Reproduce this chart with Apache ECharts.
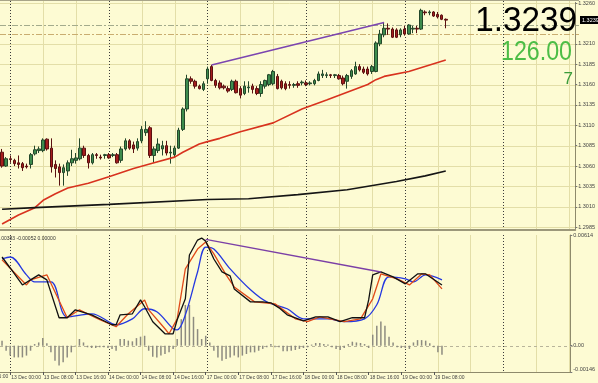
<!DOCTYPE html>
<html><head><meta charset="utf-8">
<script src="https://cdn.jsdelivr.net/npm/echarts@6/dist/echarts.min.js"></script>
<style>html,body{margin:0;padding:0;background:#fdfbd3;overflow:hidden}#c{width:598px;height:383px}</style>
</head><body><div id="c"></div>
<script>
// ---- data ----
const opens  = [1.3077,1.3060,1.3069,1.3067,1.3064,1.3063,1.3060,1.3062,1.3075,1.3079,1.3079,1.3093,1.3082,1.3062,1.3059,1.3052,1.3054,1.3064,1.3067,1.3069,1.3082,1.3073,1.3064,1.3074,1.3071,1.3073,1.3074,1.3073,1.3074,1.3067,1.3081,1.3091,1.3086,1.3082,1.3091,1.3101,1.3107,1.3073,1.3079,1.3081,1.3085,1.3076,1.3074,1.3082,1.3105,1.3130,1.3167,1.3164,1.3158,1.3154,1.3167,1.3182,1.3165,1.3162,1.3158,1.3155,1.3154,1.3164,1.3155,1.3149,1.3156,1.3158,1.3155,1.3149,1.3158,1.3160,1.3161,1.3170,1.3164,1.3161,1.3160,1.3159,1.3161,1.3162,1.3162,1.3161,1.3161,1.3165,1.3171,1.3171,1.3172,1.3171,1.3171,1.3168,1.3164,1.3170,1.3173,1.3182,1.3179,1.3179,1.3176,1.3176,1.3210,1.3221,1.3229,1.3228,1.3227,1.3221,1.3228,1.3222,1.3228,1.3229,1.3228,1.3249,1.3248,1.3249,1.3246,1.3245,1.3240];
const closes = [1.3060,1.3069,1.3068,1.3063,1.3062,1.3058,1.3059,1.3074,1.3080,1.3081,1.3092,1.3081,1.3059,1.3057,1.3052,1.3058,1.3064,1.3069,1.3070,1.3082,1.3073,1.3064,1.3074,1.3073,1.3070,1.3074,1.3070,1.3074,1.3064,1.3081,1.3091,1.3082,1.3081,1.3090,1.3105,1.3105,1.3073,1.3081,1.3087,1.3085,1.3076,1.3077,1.3082,1.3104,1.3130,1.3167,1.3164,1.3158,1.3155,1.3161,1.3179,1.3165,1.3159,1.3156,1.3156,1.3152,1.3164,1.3150,1.3147,1.3158,1.3157,1.3154,1.3149,1.3160,1.3165,1.3172,1.3176,1.3155,1.3156,1.3155,1.3159,1.3160,1.3159,1.3163,1.3160,1.3162,1.3165,1.3173,1.3173,1.3172,1.3171,1.3172,1.3167,1.3161,1.3171,1.3177,1.3182,1.3178,1.3175,1.3173,1.3182,1.3211,1.3222,1.3229,1.3228,1.3218,1.3218,1.3227,1.3222,1.3233,1.3229,1.3228,1.3251,1.3248,1.3249,1.3244,1.3243,1.3240,1.3239];
const highs  = [1.3081,1.3071,1.3073,1.3069,1.3073,1.3065,1.3063,1.3076,1.3085,1.3084,1.3094,1.3094,1.3094,1.3067,1.3063,1.3062,1.3067,1.3080,1.3076,1.3094,1.3085,1.3075,1.3076,1.3076,1.3074,1.3075,1.3076,1.3076,1.3076,1.3084,1.3094,1.3093,1.3090,1.3094,1.3109,1.3115,1.3109,1.3084,1.3094,1.3091,1.3091,1.3085,1.3085,1.3107,1.3132,1.3172,1.3170,1.3166,1.3160,1.3164,1.3182,1.3184,1.3167,1.3165,1.3160,1.3158,1.3166,1.3166,1.3158,1.3164,1.3164,1.3161,1.3158,1.3164,1.3166,1.3173,1.3178,1.3173,1.3166,1.3164,1.3164,1.3162,1.3164,1.3165,1.3165,1.3164,1.3167,1.3176,1.3178,1.3175,1.3173,1.3173,1.3173,1.3171,1.3173,1.3179,1.3188,1.3185,1.3182,1.3182,1.3184,1.3213,1.3227,1.3236,1.3235,1.3230,1.3229,1.3229,1.3232,1.3234,1.3232,1.3232,1.3253,1.3251,1.3251,1.3250,1.3249,1.3246,1.3241];
const lows   = [1.3058,1.3059,1.3064,1.3060,1.3057,1.3054,1.3057,1.3057,1.3073,1.3076,1.3077,1.3079,1.3052,1.3046,1.3036,1.3036,1.3048,1.3060,1.3063,1.3067,1.3070,1.3057,1.3062,1.3069,1.3068,1.3069,1.3069,1.3071,1.3063,1.3064,1.3079,1.3080,1.3076,1.3079,1.3088,1.3097,1.3070,1.3064,1.3076,1.3073,1.3073,1.3063,1.3070,1.3081,1.3103,1.3127,1.3161,1.3155,1.3154,1.3152,1.3161,1.3164,1.3156,1.3154,1.3154,1.3150,1.3152,1.3149,1.3143,1.3147,1.3150,1.3149,1.3147,1.3145,1.3155,1.3158,1.3159,1.3154,1.3154,1.3153,1.3155,1.3156,1.3156,1.3159,1.3158,1.3159,1.3159,1.3164,1.3168,1.3168,1.3168,1.3168,1.3166,1.3159,1.3155,1.3167,1.3172,1.3176,1.3173,1.3171,1.3173,1.3175,1.3207,1.3218,1.3221,1.3217,1.3217,1.3218,1.3220,1.3221,1.3223,1.3223,1.3227,1.3245,1.3245,1.3243,1.3241,1.3239,1.3229];

const maRed   = [[0,1.2989],[4,1.3000],[8,1.3009],[10,1.3018],[13,1.3026],[16,1.3033],[21,1.3039],[26,1.3047],[32,1.3057],[37,1.3064],[42,1.3071],[44,1.3077],[48,1.3087],[50,1.3090],[53,1.3094],[58,1.3102],[66,1.3113],[73,1.3130],[79,1.3141],[89,1.3160],[91,1.3166],[93,1.3170],[99,1.3176],[108,1.3190]];
const maBlack = [[0,1.3007],[8,1.3009],[26,1.3013],[50,1.3019],[60,1.3020],[72,1.3025],[84,1.3031],[96,1.3041],[103,1.3048],[108,1.3054]];

const oscBlack = [[0,0.00492],[2,0.00431],[5,0.00337],[7,0.00365],[9,0.00393],[11,0.00365],[14,0.00155],[16,0.00155],[18,0.00199],[22,0.00171],[27,0.00116],[28,0.00116],[29,0.00171],[32,0.00177],[34,0.00254],[35,0.00216],[37,0.00133],[40,0.00066],[42,0.00066],[43,0.00144],[45,0.0026],[46,0.00503],[48,0.00586],[49,0.00597],[50,0.0058],[52,0.00481],[54,0.00409],[56,0.00387],[57,0.00315],[61,0.00243],[64,0.00243],[66,0.00238],[68,0.0021],[70,0.00171],[74,0.00138],[77,0.0016],[80,0.0016],[83,0.00133],[86,0.00155],[89,0.00155],[90,0.00254],[91,0.00393],[93,0.00409],[96,0.00382],[99,0.00343],[102,0.00398],[104,0.00398],[108,0.00337]];
const oscRed = [[0,0.00476],[6,0.00337],[7,0.00365],[11,0.00393],[16,0.00155],[19,0.00199],[24,0.00144],[28,0.00105],[31,0.00177],[35,0.00254],[36,0.00199],[40,0.00094],[41,0.00066],[43,0.00149],[45,0.00426],[48,0.00536],[50,0.00575],[52,0.00509],[55,0.00393],[57,0.00326],[62,0.00243],[67,0.00232],[72,0.00149],[75,0.00133],[78,0.0016],[84,0.00133],[88,0.00149],[91,0.0026],[93,0.00398],[97,0.00371],[100,0.00337],[103,0.00398],[105,0.00393],[108,0.00315]];
const oscBlue = [[0,0.00481],[2,0.00492],[6,0.00393],[8,0.00354],[12,0.00354],[16,0.0016],[22,0.00177],[27,0.00122],[28,0.00116],[32,0.00149],[35,0.00205],[38,0.00188],[42,0.00094],[43,0.00088],[45,0.00171],[48,0.00409],[50,0.00547],[52,0.00536],[56,0.00426],[61,0.0031],[65,0.00243],[70,0.00205],[74,0.00149],[80,0.00149],[84,0.00133],[89,0.00149],[92,0.00227],[95,0.00382],[99,0.00371],[101,0.00354],[104,0.00393],[108,0.00365]];
const hist = [0.00028,-0.00028,-0.00055,-0.00065,-0.00065,-0.00065,-0.00055,-0.00028,0.00009,0.00018,0.00042,0.00013,-0.00037,-0.00083,-0.0011,-0.00092,-0.00065,-0.00037,-0.00005,0.00037,0.00018,-0.00009,-0.00013,-0.00013,-0.00009,-0.00009,-0.00013,-0.00018,-0.00028,0.00037,0.00037,0.00028,0.00024,0.00042,0.0005,0.00055,-0.00028,-0.00061,-0.00065,-0.00055,-0.00046,-0.00037,-0.00018,0.00037,0.00147,0.00226,0.00226,0.0016,0.00092,0.00037,0.00055,0.00018,-0.00028,-0.00065,-0.00083,-0.00074,-0.00065,-0.00055,-0.00065,-0.00055,-0.00046,-0.00037,-0.00037,-0.00028,-0.00018,-0.00009,0.00009,-0.00009,-0.00009,-0.00031,-0.00031,-0.00028,-0.00024,-0.00018,-0.00013,-0.00009,0.00006,0.00015,0.00015,0.00009,0.00006,-0.00009,-0.00018,-0.00024,-0.00013,0.00009,0.00022,0.00018,0.00015,0.00009,-0.00013,0.00061,0.0011,0.00134,0.0011,0.0005,0.00018,-0.00009,-0.00013,-0.00013,-0.00018,0.00018,0.00031,0.00031,0.00028,0.00013,-0.00009,-0.00037,-0.0005];

const trendPrice = [[51,1.3184],[72,1.3210],[93,1.3236]];
const trendOsc = [[50,0.00590],[93,0.00409]];
const levelLines = [1.3233, 1.3222];

const priceTicks = [1.2985,1.3010,1.3035,1.3060,1.3085,1.3110,1.3135,1.3160,1.3185,1.3210,1.3260];
const oscTicks = [-0.00146, 0, 0.00614];
const priceRange = [1.29816, 1.32607];
const oscRange = [-0.00146, 0.00614];

const timeLabelIdx = [2,10,18,26,34,42,50,58,66,74,82,90,98,106];
const timeLabels = ['13 Dec 00:00','13 Dec 08:00','13 Dec 16:00','14 Dec 00:00','14 Dec 08:00','14 Dec 16:00','17 Dec 00:00','17 Dec 08:00','17 Dec 16:00','18 Dec 00:00','18 Dec 08:00','18 Dec 16:00','19 Dec 00:00','19 Dec 08:00'];
const prevLabel = '12 Dec 16:00';
const gridIdx = [2,10,18,26,34,42,50,58,66,74,82,90,98,106,114,122,130,138];
const daySepIdx = [2,26,50,74,98,122];

const lastPrice = 1.3239;
const bigPrice = '1.3239', bigSpread = '126.00', bigCount = '7';
const oscHeader = '0.00383 -0.00052 0.00000';

const NCAT = 140;
const cats = Array.from({length: NCAT}, (_, i) => String(i));

// ---- chart ----
const FONT = '"Liberation Sans", Arial, sans-serif';
const BG = '#fdfbd3';
const chart = echarts.init(document.getElementById('c'), null, {renderer: 'canvas'});
const candleData = opens.map((o, i) => [o, closes[i], lows[i], highs[i]]);

const option = {
  animation: false,
  backgroundColor: BG,
  grid: [
    {left: 0, right: 19, top: 0, height: 230},
    {left: 0, right: 19, top: 235, height: 137}
  ],
  xAxis: [
    {type: 'category', gridIndex: 0, data: cats, boundaryGap: true,
     axisLine: {show: true, onZero: false, lineStyle: {color: '#9c987a', width: 2}},
     axisTick: {show: false}, axisLabel: {show: false}, splitLine: {show: false}},
    {type: 'category', gridIndex: 1, data: cats, boundaryGap: true,
     axisLine: {show: true, onZero: false, lineStyle: {color: '#8e8a6c', width: 1}},
     axisTick: {show: true, alignWithLabel: true, interval: (i) => timeLabelIdx.includes(i), length: 3, lineStyle: {color: '#555'}},
     axisLabel: {show: true, interval: (i) => timeLabelIdx.includes(i),
       formatter: (v) => { const k = timeLabelIdx.indexOf(Number(v)); return k >= 0 ? timeLabels[k] : ''; },
       align: 'left', fontSize: 5, fontFamily: FONT, color: '#444', margin: 3, padding: [0, 0, 0, 1]},
     splitLine: {show: false}}
  ],
  yAxis: [
    {type: 'value', gridIndex: 0, position: 'right', min: priceRange[0], max: priceRange[1],
     axisLine: {show: true, lineStyle: {color: '#8e8a6c'}},
     axisTick: {show: true, customValues: priceTicks, length: 2, lineStyle: {color: '#777'}},
     axisLabel: {customValues: priceTicks, formatter: (v) => v.toFixed(4), fontSize: 5.5, fontFamily: FONT, color: '#444', margin: 3, hideOverlap: false},
     splitLine: {show: false}},
    {type: 'value', gridIndex: 1, position: 'right', min: oscRange[0], max: oscRange[1],
     axisLine: {show: true, lineStyle: {color: '#8e8a6c'}},
     axisTick: {show: true, customValues: oscTicks, length: 2, lineStyle: {color: '#777'}},
     axisLabel: {customValues: oscTicks, formatter: (v) => v === 0 ? '0.00' : v.toFixed(5), fontSize: 5.5, fontFamily: FONT, color: '#444', margin: 3,
       verticalAlignMinLabel: 'bottom'},
     splitLine: {show: false}}
  ],
  series: [
    {type: 'candlestick', xAxisIndex: 0, yAxisIndex: 0, data: candleData, barWidth: 3, z: 8,
     itemStyle: {color: '#3d8c4d', color0: '#a51d1d', borderColor: '#23472a', borderColor0: '#5a1010', borderWidth: 1}},
    {type: 'line', xAxisIndex: 0, yAxisIndex: 0, data: maRed, showSymbol: false, z: 9,
     lineStyle: {color: '#d8321e', width: 1.6}},
    {type: 'line', xAxisIndex: 0, yAxisIndex: 0, data: maBlack, showSymbol: false, z: 9,
     lineStyle: {color: '#151515', width: 1.6}},
    {type: 'line', xAxisIndex: 0, yAxisIndex: 0, data: trendPrice, symbol: 'rect', symbolSize: 4, showSymbol: true, z: 10,
     itemStyle: {color: BG, borderColor: '#7b45b0', borderWidth: 1}, lineStyle: {color: '#7b45b0', width: 1.6}},
    {type: 'bar', xAxisIndex: 1, yAxisIndex: 1, data: hist, barWidth: 1.5, z: 6,
     itemStyle: {color: '#8d8b80'}},
    {type: 'line', xAxisIndex: 1, yAxisIndex: 1, data: oscBlue, showSymbol: false, smooth: 0.35, z: 9,
     lineStyle: {color: '#2438e0', width: 1.3}},
    {type: 'line', xAxisIndex: 1, yAxisIndex: 1, data: oscRed, showSymbol: false, z: 9,
     lineStyle: {color: '#e04a18', width: 1.3}},
    {type: 'line', xAxisIndex: 1, yAxisIndex: 1, data: oscBlack, showSymbol: false, z: 9,
     lineStyle: {color: '#111111', width: 1.3}},
    {type: 'line', xAxisIndex: 1, yAxisIndex: 1, data: trendOsc, showSymbol: false, z: 10,
     lineStyle: {color: '#7b3fa6', width: 1.4}}
  ]
};
chart.setOption(option);

// grid / level lines placed through the axes' own scales
const g = [];
const upTop = 1, upBot = 229, loTop = 235, loBot = 372, right = 579;
gridIdx.forEach((i, k) => {
  const x = Math.round(chart.convertToPixel({xAxisIndex: 0}, String(i))) + 0.5;
  const sep = daySepIdx.includes(i);
  const st = sep ? {stroke: '#3a3a3a', lineWidth: 1, lineDash: [1, 2]} : {stroke: '#e3dea8', lineWidth: 1};
  g.push({id: 'vu' + k, type: 'line', z: 1, silent: true, shape: {x1: x, y1: upTop, x2: x, y2: upBot}, style: st});
  g.push({id: 'vl' + k, type: 'line', z: 1, silent: true, shape: {x1: x, y1: loTop, x2: x, y2: loBot}, style: st});
});
priceTicks.forEach((p, k) => {
  const y = Math.round(chart.convertToPixel({yAxisIndex: 0}, p)) + 0.5;
  g.push({id: 'h' + k, type: 'line', z: 0, silent: true, shape: {x1: 0, y1: y, x2: right, y2: y}, style: {stroke: '#e3dea8', lineWidth: 1}});
});
const lvlColors = ['#a3ab8c', '#c9ad70'];
levelLines.forEach((p, k) => {
  const y = Math.round(chart.convertToPixel({yAxisIndex: 0}, p)) + 0.5;
  g.push({id: 'lv' + k, type: 'line', z: 2, silent: true, shape: {x1: 0, y1: y, x2: right, y2: y}, style: {stroke: lvlColors[k], lineWidth: 1, lineDash: [6, 2, 2, 2]}});
});
const y0 = Math.round(chart.convertToPixel({yAxisIndex: 1}, 0)) + 0.5;
g.push({id: 'zero', type: 'line', z: 1, silent: true, shape: {x1: 0, y1: y0, x2: right, y2: y0}, style: {stroke: '#b8b49a', lineWidth: 1, lineDash: [3, 3]}});

const yPx = chart.convertToPixel({yAxisIndex: 0}, lastPrice);
const x0 = chart.convertToPixel({xAxisIndex: 1}, '0');
const step = chart.convertToPixel({xAxisIndex: 1}, '1') - x0;
g.push(
  {id: 'topline', type: 'rect', z: 50, shape: {x: 0, y: 0, width: 579, height: 1}, style: {fill: '#a8a488'}},
  {id: 'big1', type: 'text', z: 60, x: 577, y: 21, scaleX: 0.95, style: {text: bigPrice, x: 0, y: 0, align: 'right', verticalAlign: 'middle', font: '35px ' + FONT, fill: '#000000'}},
  {id: 'big2', type: 'text', z: 60, x: 572, y: 53, scaleX: 0.86, style: {text: bigSpread, x: 0, y: 0, align: 'right', verticalAlign: 'middle', font: '27px ' + FONT, fill: '#4cbd46'}},
  {id: 'big3', type: 'text', z: 60, x: 573, y: 79, style: {text: bigCount, x: 0, y: 0, align: 'right', verticalAlign: 'middle', font: '17px ' + FONT, fill: '#3a9c3a'}},
  {id: 'pbox', type: 'rect', z: 60, shape: {x: 580, y: Math.round(yPx) - 4, width: 18, height: 8}, style: {fill: '#000000'}},
  {id: 'ptxt', type: 'text', z: 61, style: {text: lastPrice.toFixed(4), x: 582, y: yPx, verticalAlign: 'middle', font: '5.5px ' + FONT, fill: '#ffffff'}},
  {id: 'osch', type: 'text', z: 60, style: {text: oscHeader, x: -3, y: 239, verticalAlign: 'middle', font: '5px ' + FONT, fill: '#333333'}},
  {id: 'prevl', type: 'text', z: 60, style: {text: prevLabel, x: x0 - 6 * step + 1, y: 377, verticalAlign: 'middle', font: '5px ' + FONT, fill: '#444444'}}
);
chart.setOption({graphic: g});
</script>
</body></html>
